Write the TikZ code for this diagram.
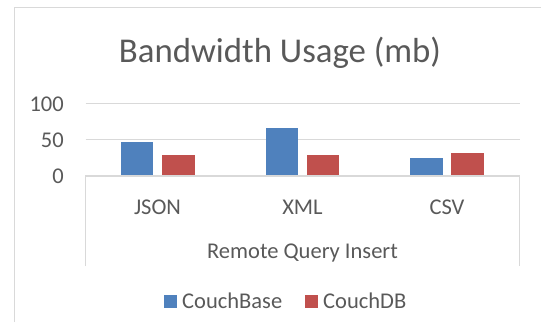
\documentclass[tikz,border=0pt]{standalone}
\usepackage{fontspec}
\setmainfont{Carlito}
\definecolor{cbblue}{HTML}{4F81BD}
\definecolor{cbred}{HTML}{C0504D}
\definecolor{gridgray}{HTML}{D9D9D9}
\definecolor{txtgray}{HTML}{595959}
\begin{document}
\begin{tikzpicture}[x=1pt,y=-1pt,
  lbl/.style={inner sep=0pt, text=txtgray, font=\fontsize{22.5}{26}\selectfont},
  bar/.style={fill=#1, draw=none},
  gridline/.style={draw=gridgray, line width=1.2pt},
  axisline/.style={draw=gridgray, line width=1.2pt}]
\useasboundingbox (0,0) rectangle (541,322);
% outer frame
\draw[draw=gridgray, line width=1pt] (14.5,322) -- (14.5,7.6) -- (541,7.6);
% title
\node[inner sep=0pt, anchor=base, text=txtgray, font=\fontsize{34.8}{40}\selectfont] (title) at (280,62) {Bandwidth Usage (mb)};
% gridlines
\coordinate (g100l) at (85.5,103.5); \coordinate (g100r) at (519.7,103.5);
\coordinate (g50l) at (85.5,139.7); \coordinate (g50r) at (519.7,139.7);
\coordinate (g0l) at (85.5,176); \coordinate (g0r) at (519.7,176);
\coordinate (bl) at (85.5,266); \coordinate (br) at (519.7,266);
\draw[gridline] (g100l) -- (g100r);
\draw[gridline] (g50l) -- (g50r);
% tick labels
\node[lbl, anchor=base east] (t100) at (64,111) {100};
\node[lbl, anchor=base east] (t50) at (64,147) {50};
\node[lbl, anchor=base east] (t0) at (64,183) {0};
% bars
\fill[bar=cbblue] (121.4,176) rectangle (153.4,142.4);
\fill[bar=cbred] (162.4,176) rectangle (194.8,154.5);
\fill[bar=cbblue] (265.9,176) rectangle (297.9,127.6);
\fill[bar=cbred] (306.9,176) rectangle (339.3,154.5);
\fill[bar=cbblue] (410.0,176) rectangle (442.8,158.3);
\fill[bar=cbred] (451.0,176) rectangle (483.8,153.1);
% category axis box
\draw[axisline] (bl) -- (g0l) -- (g0r) -- (br);
% category labels
\node[lbl, anchor=base] (json) at (157.5,214) {JSON};
\node[lbl, anchor=base] (xml) at (302.5,214) {XML};
\node[lbl, anchor=base] (csv) at (447,214) {CSV};
\node[lbl, anchor=base] (grp) at (302.5,258) {Remote Query Insert};
% legend
\fill[cbblue] (164,295) rectangle (176.6,307.8);
\node[lbl, anchor=base west] (lg1) at (182,308) {CouchBase};
\fill[cbred] (305,295) rectangle (317.6,307.8);
\node[lbl, anchor=base west] (lg2) at (323,308) {CouchDB};
\end{tikzpicture}
\end{document}
